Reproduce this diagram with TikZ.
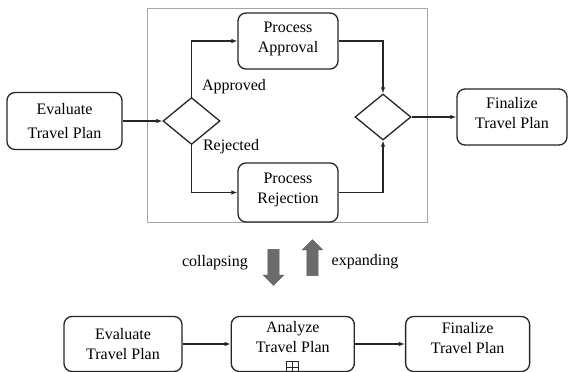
\documentclass[tikz,border=0pt]{standalone}
\usepackage{fontspec}
\setmainfont{Liberation Serif}
\usetikzlibrary{arrows.meta, positioning, shapes.geometric, shapes.arrows}

\begin{document}
\begin{tikzpicture}[x=1pt,y=-1pt,>={Latex[length=6pt,width=4.5pt]},
  every node/.style={font=\fontsize{16}{20}\selectfont},
  task/.style={draw=black!85,line width=1.3pt,rounded corners=8pt,align=center,inner sep=0pt},
  gate/.style={draw=black!85,line width=1.3pt,diamond,inner sep=0pt},
  flow/.style={->,line width=1.1pt,black!85},
  fold/.style={single arrow,fill=black!58,draw=black!65,inner xsep=0pt,inner ysep=5.5pt,
    minimum height=36pt,single arrow head extend=4.5pt}]
  \useasboundingbox (0,0) rectangle (568,372);

  % expanded sub-process
  \draw[black!35,line width=0.7pt] (147,8) rectangle (427,222);

  \node[task,minimum width=115pt,minimum height=57pt] (evaluate)  at (64.5,121) {Evaluate\\[4pt]Travel Plan};
  \node[gate,minimum width=57pt,minimum height=47pt]  (split)     at (191.5,121) {};
  \node[task,minimum width=100pt,minimum height=56pt] (approval)  at (288,41)    {Process\\Approval\\[-12pt]\mbox{}};
  \node[task,minimum width=100pt,minimum height=59pt] (rejection) at (288,192.5) {Process\\Rejection\\[-12pt]\mbox{}};
  \node[gate,minimum width=56pt,minimum height=46pt]  (join)      at (383,117)   {};
  \node[task,minimum width=110pt,minimum height=56pt] (finalize)  at (512,117)   {Finalize\\Travel Plan\\[-12pt]\mbox{}};

  \node (approved) at (234,87)  {Approved};
  \node (rejected) at (231,147) {Rejected};

  \draw[flow] (evaluate) -- (split);
  \draw[flow] (split.north) |- (approval);
  \draw[flow] (split.south) |- (rejection);
  \draw[flow] (approval) -| (join.north);
  \draw[flow] (rejection) -| (join.south);
  \draw[flow] (join) -- (finalize);

  % collapse / expand
  \node[fold,rotate=-90] (collapse) at (273.5,264.5) {};
  \node[fold,rotate=90]  (expand)   at (312.5,260.5) {};
  \node (collapsing) at (215,263) {collapsing};
  \node (expanding)  at (365,262) {expanding};

  % collapsed sub-process
  \node[task,minimum width=118pt,minimum height=55pt] (evaluate2) at (123,344) {Evaluate\\Travel Plan};
  \node[task,minimum width=123pt,minimum height=55pt,right=48pt of evaluate2] (analyze)   {Analyze\\Travel Plan\\[-6pt]\mbox{}};
  \node[task,minimum width=124pt,minimum height=55pt,right=50pt of analyze]   (finalize2) {Finalize\\Travel Plan\\[-8pt]\mbox{}};
  \node[draw=black!85,line width=1pt,minimum size=12pt,inner sep=0pt,anchor=south] (marker) at ([yshift=-1.5pt]analyze.south) {};
  \draw[black!85,line width=1pt] (marker.north) -- (marker.south) (marker.west) -- (marker.east);

  \draw[flow] (evaluate2) -- (analyze);
  \draw[flow] (analyze) -- (finalize2);
\end{tikzpicture}
\end{document}
